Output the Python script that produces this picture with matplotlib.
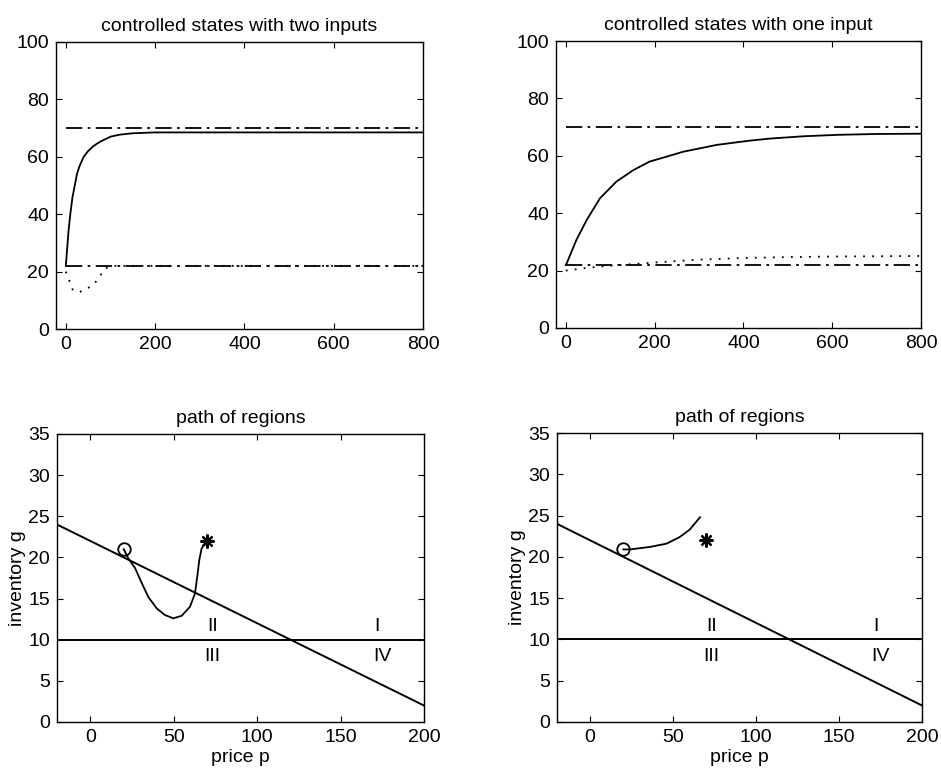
import matplotlib
matplotlib.use("Agg")
import matplotlib.pyplot as plt
import numpy as np

plt.rcParams['font.family'] = ['Liberation Sans', 'DejaVu Sans']
plt.rcParams['font.size'] = 14

# ---- top-left: controlled states with two inputs
t2_solid = [0, 3, 6, 10, 15, 20, 25, 30, 40, 50, 60, 70, 80, 100, 120, 150, 200, 400, 600, 800]
y2_solid = [22, 28, 34, 40, 46, 50, 54, 56.5, 60, 62, 63.5, 64.6, 65.5, 67, 67.7, 68.2, 68.5, 68.5, 68.5, 68.5]
t2_dot = [0, 10, 15, 30, 50, 65, 88, 100, 200, 400, 600, 800]
y2_dot = [20, 16, 13.8, 12.8, 14.3, 16, 21, 22, 22, 22, 22, 22]
ref_hi = 70
ref_lo = 22

# ---- top-right: controlled states with one input
t1_solid = [0, 2, 24, 47, 77, 114, 152, 189, 227, 264, 302, 340, 415, 460, 535, 611, 700, 800]
y1_solid = [22, 22.5, 30.7, 37.6, 45.2, 51, 55, 58, 59.7, 61.4, 62.6, 63.8, 65.3, 66, 66.8, 67.3, 67.6, 67.7]
t1_dot = [0, 50, 100, 200, 300, 400, 500, 600, 800]
y1_dot = [20, 21, 21.7, 22.8, 23.8, 24.4, 24.7, 24.9, 25.1]

# ---- bottom: path of regions
p_line = [-20, 200]
g_line = [24, 2]
g_thresh = 10
p_path2 = [20, 22.7, 26.8, 30.8, 34.7, 39.8, 44.7, 49.7, 54.7, 59.7, 62.7, 64.1, 65.3, 66.7, 68.7, 70]
g_path2 = [21, 19.9, 18.7, 16.9, 15.2, 13.8, 13.0, 12.6, 12.9, 14.0, 15.6, 17.7, 19.7, 21.1, 21.7, 22]
p_path1 = [20, 24, 36, 46, 54, 60, 66.2]
g_path1 = [20.9, 20.9, 21.2, 21.6, 22.4, 23.3, 24.8]
p_start, g_start = 20, 21
p_end, g_end = 70, 22
region_labels = ['II', 'I', 'III', 'IV']
region_p = [73, 172, 73, 175]
region_g = [11.6, 11.6, 7.9, 7.9]

fig = plt.figure(figsize=(9.41, 7.77), dpi=100)
W, H = 941, 777

def add_ax(l, t, r, b):
    return fig.add_axes([l / W, 1 - b / H, (r - l) / W, (b - t) / H])

dashdot = (0, (9, 3, 1.5, 3))

def style(ax):
    ax.tick_params(direction='in', top=True, right=True, length=4, width=0.8,
                   labelsize=14, pad=5)
    for s in ax.spines.values():
        s.set_linewidth(1.0)

ax1 = add_ax(56, 42, 423, 329)
ax1.plot(t2_solid, y2_solid, 'k-', lw=1.3)
ax1.plot([0, 800], [ref_hi, ref_hi], 'k', ls=dashdot, lw=1.3)
ax1.plot([0, 790], [ref_lo, ref_lo], 'k', ls=dashdot, lw=1.3)
ax1.plot(t2_dot, y2_dot, 'k', ls=(0, (1, 4)), lw=1.3)
ax1.set_xlim(-22, 800)
ax1.set_ylim(0, 100)
ax1.set_xticks([0, 200, 400, 600, 800])
ax1.set_yticks([0, 20, 40, 60, 80, 100])
ax1.set_title('controlled states with two inputs', fontsize=14, pad=8)
style(ax1)

ax2 = add_ax(556, 41, 921, 328)
ax2.plot(t1_solid, y1_solid, 'k-', lw=1.3)
ax2.plot([0, 800], [ref_hi, ref_hi], 'k', ls=dashdot, lw=1.3)
ax2.plot([0, 800], [ref_lo, ref_lo], 'k', ls=dashdot, lw=1.3)
ax2.plot(t1_dot, y1_dot, 'k', ls=(0, (1, 4)), lw=1.3)
ax2.set_xlim(-22, 800)
ax2.set_ylim(0, 100)
ax2.set_xticks([0, 200, 400, 600, 800])
ax2.set_yticks([0, 20, 40, 60, 80, 100])
ax2.set_title('controlled states with one input', fontsize=14, pad=8)
style(ax2)

def region_ax(ax, pp, gp):
    ax.plot(p_line, g_line, 'k-', lw=1.4)
    ax.plot([-20, 200], [g_thresh, g_thresh], 'k-', lw=1.4)
    ax.plot(pp, gp, 'k-', lw=1.3)
    ax.plot([p_start], [g_start], 'o', mfc='none', mec='k', ms=9, mew=1.3)
    ax.plot([p_end], [g_end], marker=(8, 2, 0), color='k', ms=10, mew=1.6, ls='none')
    for lab, x, y in zip(region_labels, region_p, region_g):
        ax.text(x, y, lab, ha='center', va='center', fontsize=14)
    ax.set_xlim(-20, 200)
    ax.set_ylim(0, 35)
    ax.set_xticks([0, 50, 100, 150, 200])
    ax.set_yticks([0, 5, 10, 15, 20, 25, 30, 35])
    ax.set_title('path of regions', fontsize=14, pad=8)
    ax.set_xlabel('price p', fontsize=14, labelpad=2)
    ax.set_ylabel('inventory g', fontsize=14, labelpad=2)
    style(ax)

ax3 = add_ax(57, 434, 424, 722)
region_ax(ax3, p_path2, g_path2)
ax4 = add_ax(557, 433, 922, 722)
region_ax(ax4, p_path1, g_path1)

fig.savefig('out.png', dpi=100)
